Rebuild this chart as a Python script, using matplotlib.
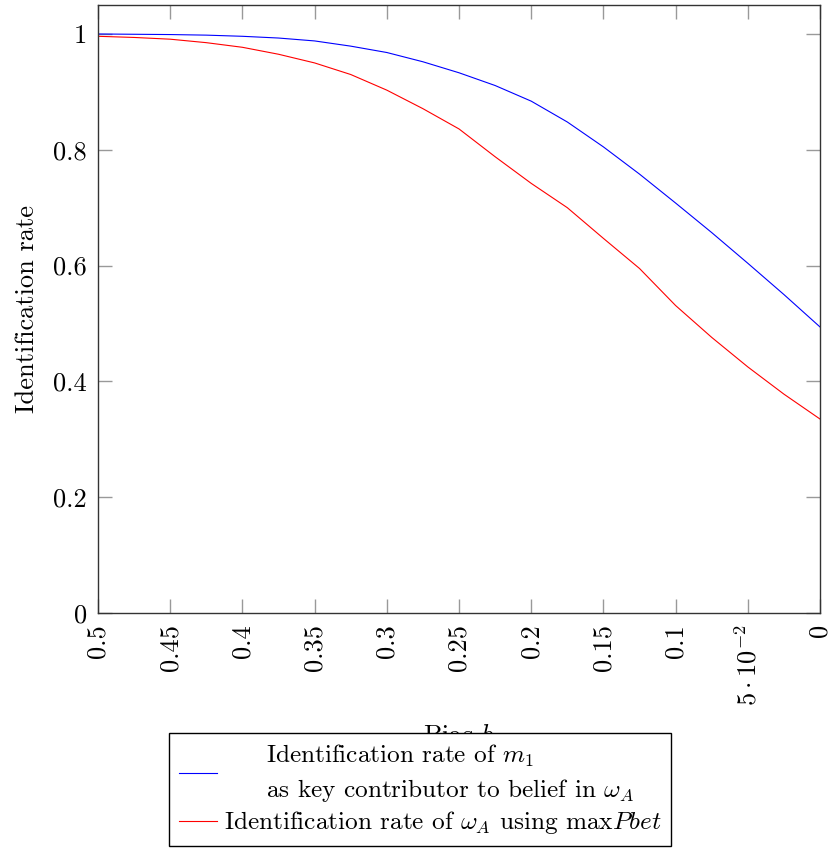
import matplotlib
matplotlib.use("Agg")
import matplotlib.pyplot as plt

plt.rcParams['font.family'] = ['cmr10', 'DejaVu Serif']
plt.rcParams['mathtext.fontset'] = 'cm'
plt.rcParams['axes.unicode_minus'] = False

# bias values (x axis, reversed)
bias = [0.5, 0.475, 0.45, 0.425, 0.4, 0.375, 0.35, 0.325, 0.3, 0.275, 0.25,
        0.225, 0.2, 0.175, 0.15, 0.125, 0.1, 0.075, 0.05, 0.025, 0.0]
# identification rate of m1 as key contributor
rate_m1 = [1.0, 0.9995, 0.999, 0.998, 0.996, 0.993, 0.988, 0.979, 0.968, 0.952, 0.933,
           0.911, 0.884, 0.848, 0.805, 0.758, 0.708, 0.657, 0.604, 0.550, 0.494]
# identification rate of omega_A using max Pbet
rate_pbet = [0.996, 0.994, 0.991, 0.985, 0.977, 0.965, 0.950, 0.930, 0.903, 0.871, 0.836,
             0.788, 0.742, 0.700, 0.647, 0.595, 0.531, 0.476, 0.425, 0.378, 0.335]

xticks = [0.5, 0.45, 0.4, 0.35, 0.3, 0.25, 0.2, 0.15, 0.1, 0.05, 0.0]
xticklabels = ["0.5", "0.45", "0.4", "0.35", "0.3", "0.25", "0.2", "0.15", "0.1",
               r"$5\cdot10^{-2}$", "0"]
yticks = [0, 0.2, 0.4, 0.6, 0.8, 1.0]
yticklabels = ["0", "0.2", "0.4", "0.6", "0.8", "1"]

fig = plt.figure(figsize=(8.32, 8.52), dpi=100)
ax = fig.add_axes([0.1178, 0.2805, 0.8678, 0.7136])

l1, = ax.plot(bias, rate_m1, color="blue", lw=0.8)
l2, = ax.plot(bias, rate_pbet, color="red", lw=0.8)

ax.set_xlim(0.5, 0.0)
ax.set_ylim(0, 1.05)
ax.set_xticks(xticks)
ax.set_xticklabels(xticklabels, rotation=90, fontsize=19)
ax.set_yticks(yticks)
ax.set_yticklabels(yticklabels, fontsize=19)
ax.tick_params(direction="in", length=10, width=1, color="#999999",
               top=True, right=True, pad=8)
for s in ax.spines.values():
    s.set_linewidth(1)
    s.set_color("#333333")

ax.set_ylabel("Identification rate", fontsize=19, labelpad=10)
# legend sits over the lower part of the x label, as in the original
ax.set_xlabel("Bias $b$", fontsize=19, labelpad=13)

ind = "     "
leg = fig.legend([l1, l2],
                 [ind + "Identification rate of $m_1$\n" + ind + r"as key contributor to belief in $\omega_A$",
                  r"Identification rate of $\omega_A$ using max$Pbet$"],
                 loc="upper center", bbox_to_anchor=(0.505, 0.1397),
                 fontsize=18.2, fancybox=False, framealpha=1, edgecolor="black",
                 handlelength=1.5, handletextpad=0.28, borderpad=0.38,
                 labelspacing=0.22, borderaxespad=0)
leg.get_frame().set_linewidth(1)
leg.get_texts()[0].set_linespacing(1.4)

fig.savefig("out.png", dpi=100)
